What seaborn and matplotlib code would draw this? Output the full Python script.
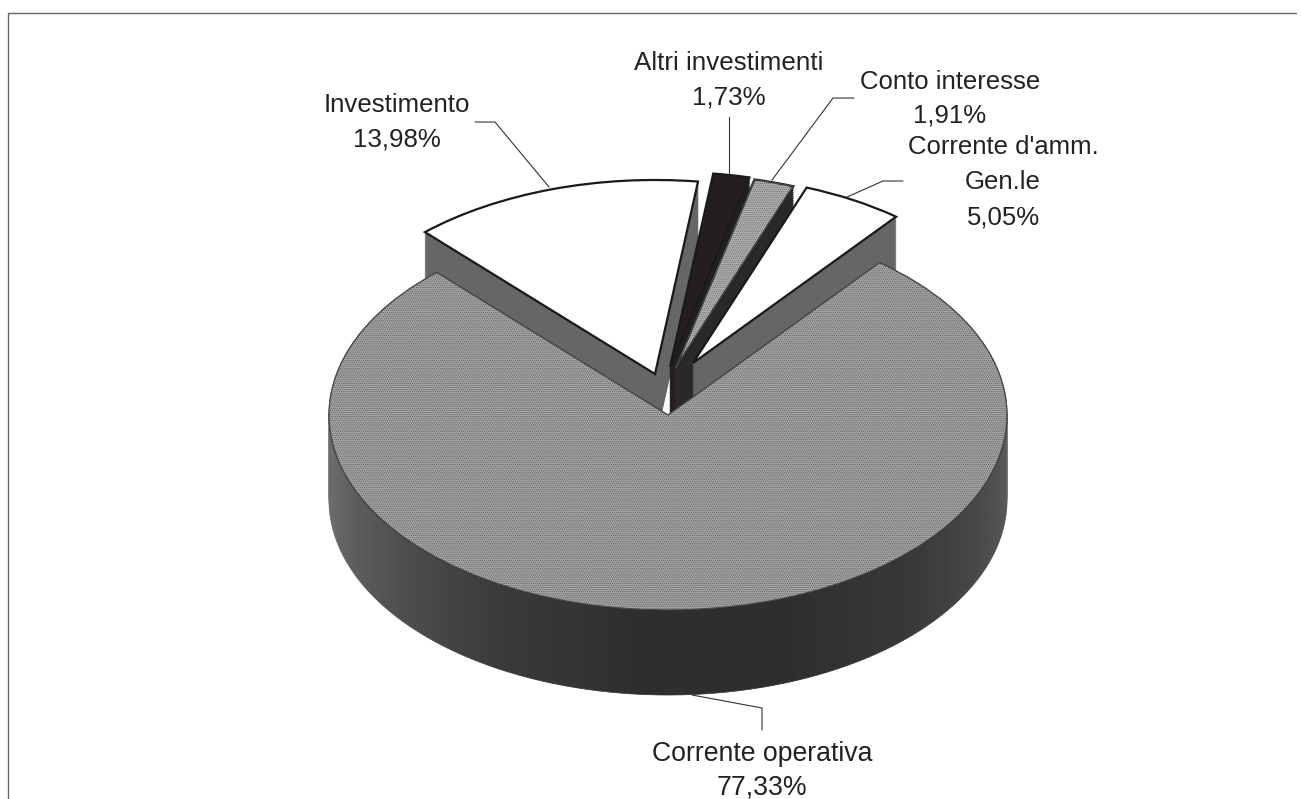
import numpy as np
import matplotlib
matplotlib.use("Agg")
import matplotlib.pyplot as plt
import seaborn as sns

sns.set_theme(style="white")
plt.rcParams['font.family'] = ['Liberation Sans', 'DejaVu Sans']
plt.rcParams['hatch.linewidth'] = 0.6

# ---- data -------------------------------------------------------------
categories = ["Corrente operativa", "Corrente d'amm.\nGen.le", "Conto interesse",
              "Altri investimenti", "Investimento"]
shares = [77.33, 5.05, 1.91, 1.73, 13.98]
share_labels = ["77,33%", "5,05%", "1,91%", "1,73%", "13,98%"]

# ---- layout (pixels of the 1301x799 image) ----------------------------
W, H = 1301, 799
RX, RY = 339.0, 195.0
APEX = (668.0, 415.0)
MAIN_DEPTH = 85
DEPTH = 68
START = 133.0
apexes = [(668, 415), (693, 363), (675, 369), (670, 367), (655, 374)]
radii = [1.0, 0.96, 1.0, 1.0, 0.995]
top_cols = ["#a9a9a9", "#ffffff", "#b4b4b4", "#231f20", "#ffffff"]
wall_cols = ["#2e2c2d", "#666666", "#2a2829", "#231f20", "#666666"]
hatches = ["........", None, "........", None, None]
draw_order = [4, 3, 2, 1]  # exploded slices, back to front, main slice last

tone_angles = [130, 190, 215, 240, 265, 290, 315, 340, 360, 415]
tone_greys = [0.42, 0.42, 0.32, 0.23, 0.18, 0.18, 0.22, 0.30, 0.38, 0.38]

fig = plt.figure(figsize=(W / 100, H / 100), dpi=100, facecolor="white")
ax = fig.add_axes([0, 0, 1, 1])


def to_uv(px, py):
    return ((px - APEX[0]) / RX, (APEX[1] - py) / RY)


def one_slice(value, start, center_px, color, radius=1.0, edge="none", lw=0, hatch=None, dy=0):
    c = to_uv(center_px[0], center_px[1] + dy)
    wedges, _ = ax.pie([value, 100 - value], startangle=start, center=c, radius=radius,
                       colors=[color, "none"], counterclock=True,
                       wedgeprops=dict(edgecolor=edge, linewidth=lw, hatch=hatch))
    wedges[1].set_visible(False)
    return wedges[0]


starts = np.cumsum([START] + [s * 3.6 for s in shares[:-1]])

# exploded slices
for i in draw_order:
    for d in range(DEPTH, 0, -2):
        one_slice(shares[i], starts[i], apexes[i], wall_cols[i], radii[i],
                  edge=wall_cols[i], lw=0.6, dy=d)
    one_slice(shares[i], starts[i], apexes[i], top_cols[i], radii[i], edge="#1a1a1a", lw=1.6)
    if hatches[i]:
        one_slice(shares[i], starts[i], apexes[i], "none", radii[i],
                  edge="#666666", lw=0.4, hatch=hatches[i])

# main slice side wall, shaded by angle
n_strips = 140
strip_vals = [shares[0] / 100 / n_strips] * n_strips
strip_mid = starts[0] + (np.arange(n_strips) + 0.5) * shares[0] * 3.6 / n_strips
strip_cols = [str(g) for g in np.interp(strip_mid, tone_angles, tone_greys)]
for d in range(MAIN_DEPTH, 0, -3):
    c = to_uv(apexes[0][0], apexes[0][1] + d)
    strips, _ = ax.pie(strip_vals, startangle=starts[0], center=c, radius=1, colors=strip_cols,
                       normalize=False)
    for s in strips:
        s.set_edgecolor(s.get_facecolor())
        s.set_linewidth(0.5)
one_slice(shares[0], starts[0], apexes[0], top_cols[0], edge="#333333", lw=0.9)
one_slice(shares[0], starts[0], apexes[0], "none", edge="#5a5a5a", lw=0.3, hatch=hatches[0])

ax.set_aspect("auto")
ax.set_xlim((0 - APEX[0]) / RX, (W - APEX[0]) / RX)
ax.set_ylim((APEX[1] - H) / RY, APEX[1] / RY)
ax.axis("off")

# ---- overlay in pixel coordinates: frame, leader lines, labels --------
ov = fig.add_axes([0, 0, 1, 1], facecolor="none")
ov.set_xlim(0, W)
ov.set_ylim(H, 0)
ov.axis("off")

ov.plot([8, 8, 1296], [H, 13, 13], color="#666666", lw=1.0)

leaders = [
    ([692, 762, 762], [695, 708, 730]),
    ([847, 883, 903], [197, 181, 181]),
    ([772, 833, 854], [180, 98, 98]),
    ([729, 729], [173, 117]),
    ([549, 495, 475], [187, 122, 122]),
]
for xs, ys in leaders:
    ov.plot(xs, ys, color="#333333", lw=0.8)

TXT = "#222222"
font_sizes = [19.2, 18.5, 18.5, 18.7, 18.6]
label_x = [762, 1003, 950, 729, 397]
name_y = [[754], [147, 182], [82], [63], [105]]
pct_y = [787, 217, 116, 97, 140]
for i, cat in enumerate(categories):
    for line, y in zip(cat.split("\n"), name_y[i]):
        ov.text(label_x[i], y, line, ha="center", va="center", fontsize=font_sizes[i], color=TXT)
    ov.text(label_x[i], pct_y[i], share_labels[i], ha="center", va="center",
            fontsize=font_sizes[i], color=TXT)

fig.savefig("out.png", dpi=100, facecolor="white")
